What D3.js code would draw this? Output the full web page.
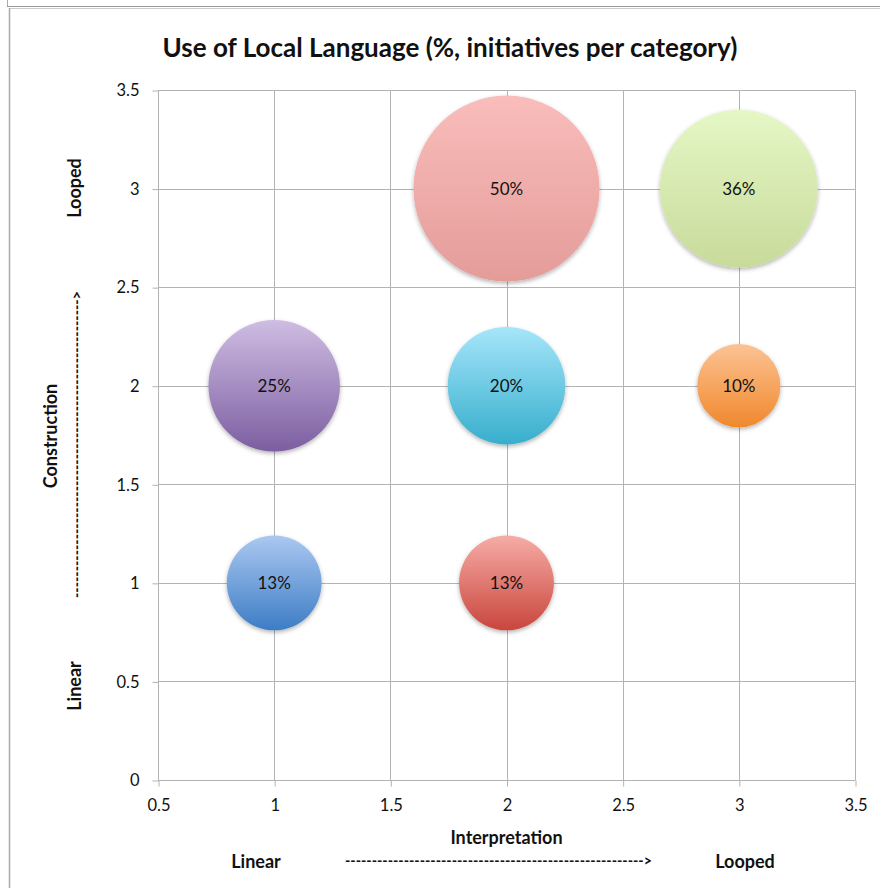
<!DOCTYPE html>
<html>
<head>
<meta charset="utf-8">
<script src="https://cdn.jsdelivr.net/npm/d3@7/dist/d3.min.js"></script>
<style>
  html, body { margin: 0; padding: 0; background: #fff; }
  svg { display: block; }
  text { font-family: Lato, "Open Sans", sans-serif; fill: #111; }
</style>
</head>
<body>
<svg id="chart" width="880" height="888"></svg>
<script>
// Bubble data: interpretation (x), construction (y), share of initiatives (%)
const interpretation = [2, 3, 1, 2, 3, 1, 2];
const construction   = [3, 3, 2, 2, 2, 1, 1];
const shares         = [50, 36, 25, 20, 10, 13, 13];
const topColors      = ["#f9bdbb", "#e5f7c6", "#cfbde3", "#a6e6fa", "#fcc394", "#abc8f1", "#f6aca6"];
const bottomColors   = ["#e49c99", "#c8db9a", "#7c5ea1", "#37aecd", "#f0882c", "#3d7dc5", "#c9463c"];

const xTicks = [0.5, 1, 1.5, 2, 2.5, 3, 3.5];
const yTicks = [0, 0.5, 1, 1.5, 2, 2.5, 3, 3.5];

const title = "Use of Local Language (%, initiatives per category)";
const arrowText = "-------------------------------------------------------->";

const svg = d3.select("#chart");
const gridColor = "#b3b3b3";

// Outer frame lines
svg.append("line").attr("x1", 7.5).attr("x2", 7.5).attr("y1", 0).attr("y2", 6)
  .attr("stroke", "#aaa");
svg.append("line").attr("x1", 7).attr("x2", 880).attr("y1", 6.5).attr("y2", 6.5)
  .attr("stroke", "#999");
svg.append("line").attr("x1", 9).attr("x2", 880).attr("y1", 8.5).attr("y2", 8.5)
  .attr("stroke", "#ccc");
svg.append("line").attr("x1", 9.5).attr("x2", 9.5).attr("y1", 8).attr("y2", 888)
  .attr("stroke", "#aaa").attr("stroke-width", 1.5);

const plotLeft = 158, plotRight = 855, plotTop = 90, plotBottom = 780;
const x = d3.scaleLinear().domain([0.5, 3.5]).range([plotLeft, plotRight]);
const y = d3.scaleLinear().domain([0, 3.5]).range([plotBottom, plotTop]);
const r = d3.scaleSqrt().domain([0, 50]).range([0, 93]);

// Title
svg.append("text")
  .attr("x", 450).attr("y", 57)
  .attr("text-anchor", "middle")
  .attr("font-size", 26).attr("font-weight", "bold")
  .text(title);

// Gridlines
const grid = svg.append("g");
grid.selectAll(".vg").data(xTicks).join("line")
  .attr("x1", d => Math.round(x(d)) + 0.5).attr("x2", d => Math.round(x(d)) + 0.5)
  .attr("y1", plotTop).attr("y2", plotBottom)
  .attr("stroke", gridColor);
grid.selectAll(".hg").data(yTicks).join("line")
  .attr("x1", plotLeft).attr("x2", plotRight)
  .attr("y1", d => Math.round(y(d)) + 0.5).attr("y2", d => Math.round(y(d)) + 0.5)
  .attr("stroke", gridColor);

// Axes
const xAxis = d3.axisBottom(x).tickValues(xTicks).tickSize(6).tickPadding(13)
  .tickFormat(d3.format("~g"));
const yAxis = d3.axisLeft(y).tickValues(yTicks).tickSize(6).tickPadding(13)
  .tickFormat(d3.format("~g"));

const gx = svg.append("g").attr("transform", `translate(0.5,${plotBottom + 0.5})`).call(xAxis);
const gy = svg.append("g").attr("transform", `translate(${plotLeft + 0.5},0.5)`).call(yAxis);
[gx, gy].forEach(g => {
  g.select(".domain").attr("stroke", gridColor);
  g.selectAll(".tick line").attr("stroke", gridColor);
  g.selectAll(".tick text").attr("font-size", 16.5).attr("fill", "#1a1a1a")
    .attr("font-family", "Lato, 'Open Sans', sans-serif");
});
gx.select(".domain").attr("d", `M${plotLeft},0H${plotRight}`);
gy.select(".domain").attr("d", `M0,${plotTop}V${plotBottom}`);

// Gradients and shadow
const defs = svg.append("defs");
shares.forEach((s, i) => {
  const g = defs.append("linearGradient").attr("id", "grad" + i)
    .attr("x1", 0).attr("y1", 0).attr("x2", 0).attr("y2", 1);
  g.append("stop").attr("offset", "0%").attr("stop-color", topColors[i]);
  g.append("stop").attr("offset", "100%").attr("stop-color", bottomColors[i]);
});
const f = defs.append("filter").attr("id", "shadow")
  .attr("x", "-20%").attr("y", "-20%").attr("width", "140%").attr("height", "140%");
f.append("feDropShadow").attr("dx", 0).attr("dy", 2).attr("stdDeviation", 2)
  .attr("flood-color", "#000").attr("flood-opacity", 0.3);

// Bubbles
const bubbles = svg.append("g");
bubbles.selectAll("circle").data(shares).join("circle")
  .attr("cx", (d, i) => x(interpretation[i]))
  .attr("cy", (d, i) => y(construction[i]))
  .attr("r", d => r(d))
  .attr("fill", (d, i) => `url(#grad${i})`)
  .attr("filter", "url(#shadow)");
bubbles.selectAll("text").data(shares).join("text")
  .attr("x", (d, i) => x(interpretation[i]))
  .attr("y", (d, i) => y(construction[i]) + 6)
  .attr("text-anchor", "middle")
  .attr("font-size", 17)
  .text(d => d + "%");

// Axis titles
const bold = sel => sel.attr("font-size", 18).attr("font-weight", "bold");
const arrow = sel => sel.attr("font-size", 15).attr("font-weight", "bold").attr("fill", "#000")
  .attr("textLength", 307).attr("lengthAdjust", "spacingAndGlyphs");
svg.append("text").attr("x", x(2)).attr("y", 844).attr("text-anchor", "middle")
  .call(bold).text("Interpretation");
svg.append("text").attr("x", 256).attr("y", 868).attr("text-anchor", "middle")
  .call(bold).text("Linear");
svg.append("text").attr("x", 345).attr("y", 866)
  .call(arrow).text(arrowText);
svg.append("text").attr("x", 745).attr("y", 868).attr("text-anchor", "middle")
  .call(bold).text("Looped");

svg.append("text").attr("transform", "translate(81,188) rotate(-90)").attr("text-anchor", "middle")
  .call(bold).text("Looped");
svg.append("text").attr("transform", "translate(57,436) rotate(-90)").attr("text-anchor", "middle")
  .call(bold).text("Construction");
svg.append("text").attr("transform", "translate(82,598) rotate(-90)")
  .call(arrow).text(arrowText);
svg.append("text").attr("transform", "translate(81,686) rotate(-90)").attr("text-anchor", "middle")
  .call(bold).text("Linear");
</script>
</body>
</html>
